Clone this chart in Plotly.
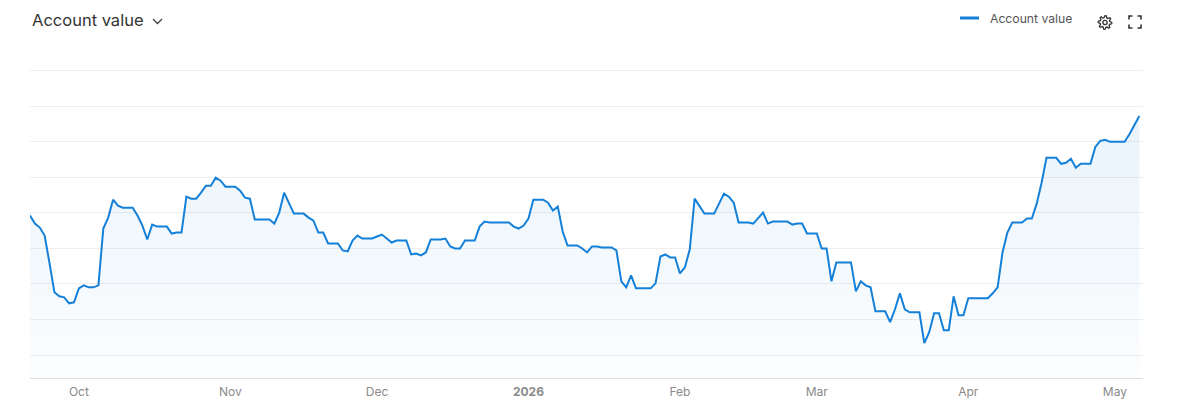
import math
import pandas as pd
import plotly.graph_objects as go

# ---- data ----
start_date = "2025-09-21"
account_value = [
    13920, 13696, 13584, 13360, 12576, 11764, 11652, 11624, 11456, 11484,
    11876, 11960, 11904, 11904, 11960, 13556, 13864, 14368, 14200, 14144,
    14144, 14144, 13920, 13640, 13248, 13668, 13612, 13612, 13612, 13416,
    13444, 13444, 14452, 14396, 14396, 14564, 14760, 14760, 14984, 14900,
    14732, 14732, 14732, 14620, 14424, 14396, 13808, 13808, 13808, 13808,
    13696, 14004, 14564, 14284, 13976, 13976, 13976, 13864, 13780, 13444,
    13444, 13136, 13136, 13136, 12940, 12912, 13220, 13360, 13276, 13276,
    13276, 13332, 13388, 13276, 13164, 13220, 13220, 13220, 12828, 12856,
    12800, 12884, 13248, 13248, 13248, 13276, 13052, 12996, 12996, 13220,
    13220, 13220, 13612, 13752, 13724, 13724, 13724, 13724, 13724, 13612,
    13556, 13640, 13836, 14368, 14368, 14368, 14284, 14060, 14172, 13472,
    13080, 13080, 13080, 12996, 12884, 13052, 13052, 13024, 13024, 13024,
    12940, 12072, 11904, 12240, 11876, 11876, 11876, 11876, 12016, 12772,
    12828, 12744, 12744, 12296, 12464, 12968, 14396, 14172, 13976, 13976,
    13976, 14256, 14536, 14452, 14284, 13724, 13724, 13724, 13696, 13836,
    14004, 13696, 13752, 13752, 13752, 13752, 13668, 13696, 13696, 13416,
    13416, 13416, 12996, 12996, 12072, 12604, 12604, 12604, 12604, 11792,
    12072, 11960, 11904, 11232, 11232, 11232, 10924, 11288, 11736, 11288,
    11204, 11204, 11204, 10336, 10644, 11176, 11176, 10700, 10700, 11652,
    11120, 11120, 11596, 11596, 11596, 11596, 11596, 11736, 11904, 12884,
    13444, 13724, 13724, 13724, 13836, 13836, 14256, 14844, 15544, 15544,
    15544, 15376, 15404, 15516, 15264, 15376, 15376, 15376, 15852, 16020,
    16048, 15992, 15992, 15992, 15992, 16216, 16468, 16720,
]
dates = pd.date_range(start_date, periods=len(account_value), freq="D")

tick_dates = ["2025-10-01", "2025-11-01", "2025-12-01", "2026-01-01",
              "2026-02-01", "2026-03-01", "2026-04-01", "2026-05-01"]
tick_labels = ["Oct", "Nov", "Dec", "<b>2026</b>", "Feb", "Mar", "Apr", "May"]
series_name = "Account value"

# ---- styling ----
OFF = 8                      # page body margin
W, H = 1184, 397
L, R, T, B = 22, 49, 61, 27
PW, PH = W - L - R, H - T - B
LINE = "#1580d8"
Y0, Y1 = 9356, 18000


def px(x):   # page pixel -> paper
    return (x - OFF - L) / PW


def py(y):
    return (H - B - (y - OFF)) / PH


fig = go.Figure()
fig.add_trace(go.Scatter(
    x=dates, y=account_value, mode="lines", name=series_name,
    line=dict(color=LINE, width=2),
    fill="tozeroy",
    fillgradient=dict(type="vertical",
                      colorscale=[[0, "rgba(21,128,216,0.015)"],
                                  [1, "rgba(21,128,216,0.09)"]],
                      start=Y0, stop=max(account_value)),
    showlegend=False,
    hovertemplate="%{x|%b %d, %Y}<br>%{y:,.0f}<extra></extra>",
))

fig.update_layout(
    width=W, height=H,
    margin=dict(l=L, r=R, t=T, b=B, autoexpand=False),
    paper_bgcolor="white", plot_bgcolor="white",
    font=dict(family="Inter, Roboto, sans-serif", color="#888"),
    xaxis=dict(
        range=[dates[0], dates[-1] + pd.Timedelta(hours=18)],
        tickvals=tick_dates, ticktext=tick_labels,
        showgrid=False, zeroline=False,
        showline=True, linecolor="#dedede", linewidth=1,
        ticks="", tickfont=dict(size=12, color="#8a8a8a"),
        ticklabelstandoff=3, automargin=False,
        fixedrange=True,
    ),
    yaxis=dict(
        range=[Y0, Y1 + 40], dtick=1000, tick0=10000,
        showticklabels=False, showgrid=True, gridcolor="#eeeeee",
        gridwidth=1, zeroline=False, showline=False, fixedrange=True,
        automargin=False,
    ),
)

# title with chevron
fig.add_annotation(xref="paper", yref="paper", x=px(30), y=py(20),
                   xanchor="left", yanchor="middle", showarrow=False,
                   text=series_name,
                   font=dict(size=16.5, color="#333", family="Inter, sans-serif"))
fig.add_shape(type="path", xref="paper", yref="paper",
              path=f"M {px(153)} {py(19)} L {px(157.5)} {py(23.5)} L {px(162)} {py(19)}",
              line=dict(color="#444", width=1.3))

# legend (drawn)
fig.add_shape(type="line", xref="paper", yref="paper",
              x0=px(960), x1=px(979), y0=py(18), y1=py(18),
              line=dict(color=LINE, width=3))
fig.add_annotation(xref="paper", yref="paper", x=px(988), y=py(18),
                   xanchor="left", yanchor="middle", showarrow=False,
                   text=series_name,
                   font=dict(size=12.2, color="#555", family="Inter, sans-serif"))

# gear icon (outline)
gx, gy = 1105, 22.5
pts = []
teeth = 8
for k in range(teeth * 4):
    ang = 2 * math.pi * k / (teeth * 4) - math.pi / 2
    r = 6.8 if (k % 4) in (0, 1) else 4.9
    pts.append((gx + r * math.cos(ang), gy + r * math.sin(ang)))
gear_path = "M " + " L ".join(f"{px(a)} {py(b)}" for a, b in pts) + " Z"
fig.add_shape(type="path", xref="paper", yref="paper", path=gear_path,
              line=dict(color="#333", width=1.3))
fig.add_shape(type="circle", xref="paper", yref="paper",
              x0=px(gx - 2.1), x1=px(gx + 2.1), y0=py(gy - 2.1), y1=py(gy + 2.1),
              line=dict(color="#333", width=1.3))

# fullscreen icon corners
x0, x1, y0, y1, c = 1129, 1141, 16, 28, 3.5
for path in [
    f"M {px(x0)} {py(y0 + c)} L {px(x0)} {py(y0)} L {px(x0 + c)} {py(y0)}",
    f"M {px(x1 - c)} {py(y0)} L {px(x1)} {py(y0)} L {px(x1)} {py(y0 + c)}",
    f"M {px(x0)} {py(y1 - c)} L {px(x0)} {py(y1)} L {px(x0 + c)} {py(y1)}",
    f"M {px(x1 - c)} {py(y1)} L {px(x1)} {py(y1)} L {px(x1)} {py(y1 - c)}",
]:
    fig.add_shape(type="path", xref="paper", yref="paper", path=path,
                  line=dict(color="#333", width=1.6))

fig.write_html("out.html", config={"displayModeBar": False})
